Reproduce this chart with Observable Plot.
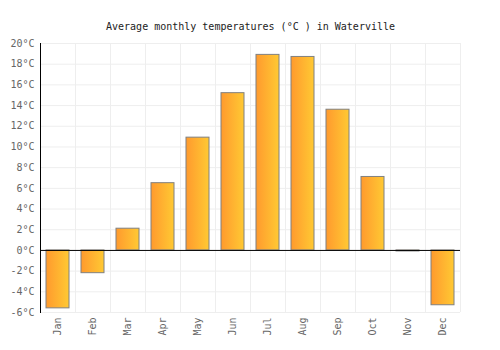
<!DOCTYPE html>
<html>
<head>
<meta charset="utf-8">
<script src="https://cdn.jsdelivr.net/npm/d3@7"></script>
<script src="https://cdn.jsdelivr.net/npm/@observablehq/plot@0.6"></script>
<style>
  body { margin: 0; background: #fff; }
  #chart svg { display: block; }
</style>
</head>
<body>
<div id="chart"></div>
<script>
const months = ["Jan","Feb","Mar","Apr","May","Jun","Jul","Aug","Sep","Oct","Nov","Dec"];
const temps = [-5.6, -2.2, 2.1, 6.5, 10.9, 15.2, 18.9, 18.7, 13.6, 7.1, -0.1, -5.3];
const yTicks = [-6, -4, -2, 0, 2, 4, 6, 8, 10, 12, 14, 16, 18, 20];
const title = "Average monthly temperatures (°C ) in Waterville";

const data = months.map((m, i) => ({month: m, temp: temps[i]}));
const font = "'DejaVu Sans Mono', monospace";

const plot = Plot.plot({
  width: 500,
  height: 350,
  marginTop: 43,
  marginBottom: 38,
  marginLeft: 40,
  marginRight: 40,
  style: {fontFamily: font, fontSize: "10px", background: "#fff"},
  x: {domain: months, paddingInner: 0.343, paddingOuter: 0.1715, label: null},
  y: {domain: [-6, 20], label: null},
  marks: [
    Plot.gridY(yTicks, {stroke: "#eeeeee", strokeOpacity: 1}),
    Plot.ruleX(months, {x: d => d, dx: 17.5, stroke: "#eeeeee", strokeOpacity: 1}),
    Plot.barY(data, {x: "month", y: "temp", fill: "url(#barGrad)", stroke: "#808080", strokeWidth: 1}),
    Plot.ruleY([0], {stroke: "#000", strokeWidth: 1}),
    Plot.frame({anchor: "left", stroke: "#000"}),
    Plot.axisY(yTicks, {tickSize: 0, tickPadding: 6, tickFormat: d => d + "°C", fill: "#666", fontSize: 10, label: null}),
    Plot.axisX({tickSize: 0, tickPadding: 5, tickRotate: -90, fill: "#666", fontSize: 10, label: null}),
    Plot.text([title], {text: d => d, frameAnchor: "top", dy: -21, fill: "#222", fontSize: 10, fontFamily: font})
  ]
});

const defs = d3.select(plot).insert("defs", ":first-child");
const g = defs.append("linearGradient").attr("id", "barGrad").attr("x1", "0%").attr("x2", "100%").attr("y1", "0%").attr("y2", "0%");
g.append("stop").attr("offset", "0%").attr("stop-color", "#ff9a2e");
g.append("stop").attr("offset", "100%").attr("stop-color", "#ffc933");

document.getElementById("chart").appendChild(plot);
</script>
</body>
</html>
